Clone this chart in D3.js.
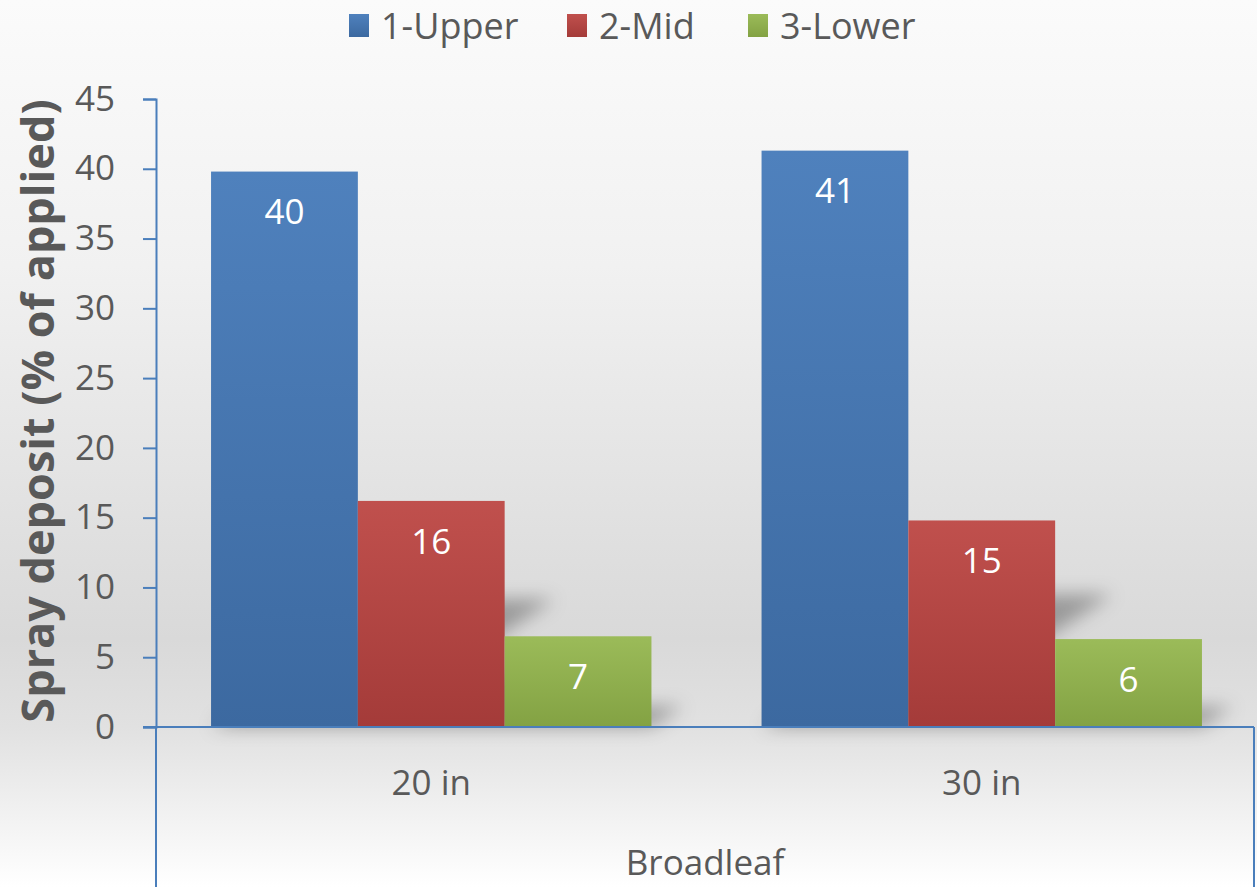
<!DOCTYPE html>
<html>
<head>
<meta charset="utf-8">
<script src="https://cdn.jsdelivr.net/npm/d3@7/dist/d3.min.js"></script>
<style>
  html, body { margin: 0; padding: 0; background: #ffffff; }
  svg { display: block; }
  text { font-family: "Open Sans", "Noto Sans", sans-serif; }
</style>
</head>
<body>
<svg id="chart" width="1257" height="887"></svg>
<script>
// Spray deposit by canopy layer, broadleaf, two boom heights
const categories = ["20 in", "30 in"];
const seriesNames = ["1-Upper", "2-Mid", "3-Lower"];
const upperValues = [39.8, 41.3];
const midValues = [16.2, 14.8];
const lowerValues = [6.5, 6.3];
const yTickValues = [0, 5, 10, 15, 20, 25, 30, 35, 40, 45];
const groupLabel = "Broadleaf";
const yTitle = "Spray deposit (% of applied)";

const seriesValues = [upperValues, midValues, lowerValues];
const seriesColors = [
  { top: "#4f81bd", bottom: "#3c69a0" },
  { top: "#c0504d", bottom: "#a43b39" },
  { top: "#9bbb59", bottom: "#83a243" }
];

const W = 1257, H = 887;
const plot = { left: 156, right: 1254, top: 99, bottom: 727 };
const axisColor = "#4a7ebb";
const textColor = "#595959";

const svg = d3.select("#chart");
const defs = svg.append("defs");

// page background: light at top, grey toward the axis, light again at the foot
const bg = defs.append("linearGradient").attr("id", "bg")
  .attr("x1", 0).attr("y1", 0).attr("x2", 0).attr("y2", 1);
[[0, "#fbfbfb"], [0.3, "#f1f1f1"], [0.72, "#d9d9d9"], [0.82, "#e1e1e1"], [1, "#ffffff"]]
  .forEach(([o, c]) => bg.append("stop").attr("offset", o).attr("stop-color", c));
svg.append("rect").attr("width", W).attr("height", H).attr("fill", "url(#bg)");

seriesColors.forEach((c, i) => {
  const g = defs.append("linearGradient").attr("id", "bar" + i)
    .attr("x1", 0).attr("y1", 0).attr("x2", 0).attr("y2", 1);
  g.append("stop").attr("offset", 0).attr("stop-color", c.top);
  g.append("stop").attr("offset", 1).attr("stop-color", c.bottom);
});

defs.append("filter").attr("id", "soft")
  .attr("x", "-50%").attr("y", "-50%").attr("width", "200%").attr("height", "200%")
  .append("feGaussianBlur").attr("stdDeviation", 9);

// scales
const x0 = d3.scaleBand().domain(categories)
  .range([plot.left, W]).paddingInner(0.2).paddingOuter(0.1);
const x1 = d3.scaleBand().domain(seriesNames).range([0, x0.bandwidth()]).padding(0);
const y = d3.scaleLinear().domain([0, 45]).range([plot.bottom, plot.top]);

const rows = [];
categories.forEach((cat, ci) => {
  seriesNames.forEach((s, si) => {
    rows.push({ cat, series: s, si, value: seriesValues[si][ci] });
  });
});

// perspective shadows cast up and to the right
const shadowScale = 0.23, shadowSkew = 1.54;
svg.append("g").attr("filter", "url(#soft)")
  .selectAll("path").data(rows).join("path")
  .attr("fill", "rgba(0,0,0,0.3)")
  .attr("d", d => {
    const xa = x0(d.cat) + x1(d.series);
    const xb = xa + x1.bandwidth();
    const base = y(0);
    const sh = (base - y(d.value)) * shadowScale;
    const dx = sh * shadowSkew;
    return `M${xa},${base}L${xb},${base}L${xb + dx},${base - sh}L${xa + dx},${base - sh}Z`;
  });

// bars
svg.append("g").selectAll("rect").data(rows).join("rect")
  .attr("x", d => x0(d.cat) + x1(d.series))
  .attr("y", d => y(d.value))
  .attr("width", x1.bandwidth())
  .attr("height", d => y(0) - y(d.value))
  .attr("fill", d => `url(#bar${d.si})`);

// value labels inside the bar tops
const fmt = d3.format(".0f");
svg.append("g").selectAll("text").data(rows).join("text")
  .attr("x", d => x0(d.cat) + x1(d.series) + x1.bandwidth() / 2)
  .attr("y", d => y(d.value) + 40)
  .attr("dy", "0.36em")
  .attr("text-anchor", "middle")
  .attr("fill", "#ffffff")
  .attr("font-size", 35)
  .text(d => fmt(d.value));

// y axis
const yAxis = svg.append("g").attr("transform", `translate(${plot.left},0)`)
  .call(d3.axisLeft(y).tickValues(yTickValues).tickSize(13).tickSizeOuter(13).tickPadding(28));
yAxis.select(".domain").attr("stroke", axisColor).attr("stroke-width", 2);
yAxis.selectAll(".tick line").attr("stroke", axisColor).attr("stroke-width", 2);
yAxis.selectAll(".tick text")
  .attr("fill", textColor).attr("font-size", 35)
  .attr("font-family", "'Open Sans', sans-serif");

// category axis with its grouping frame
const xAxis = svg.append("g").attr("transform", `translate(0,${plot.bottom})`)
  .call(d3.axisBottom(x0).tickSize(0).tickSizeOuter(0).tickPadding(0));
xAxis.select(".domain").attr("stroke", axisColor).attr("stroke-width", 2)
  .attr("d", `M${plot.left - 13},0H${plot.right}`);
xAxis.selectAll(".tick text")
  .attr("y", 55).attr("dy", "0.36em")
  .attr("fill", textColor).attr("font-size", 35)
  .attr("font-family", "'Open Sans', sans-serif");

const frame = svg.append("g").attr("stroke", axisColor).attr("stroke-width", 2).attr("fill", "none");
frame.append("line").attr("x1", plot.left).attr("x2", plot.left)
  .attr("y1", plot.bottom).attr("y2", H);
frame.append("line").attr("x1", plot.right).attr("x2", plot.right)
  .attr("y1", plot.bottom).attr("y2", H);

svg.append("text")
  .attr("x", (plot.left + plot.right) / 2).attr("y", 862).attr("dy", "0.36em")
  .attr("text-anchor", "middle").attr("fill", textColor).attr("font-size", 35)
  .text(groupLabel);

// y axis title
svg.append("text")
  .attr("transform", `translate(38,${(plot.top + plot.bottom) / 2 - 2}) rotate(-90)`)
  .attr("dy", "0.36em")
  .attr("text-anchor", "middle").attr("fill", textColor)
  .attr("font-size", 45).attr("font-weight", "bold")
  .text(yTitle);

// legend
const legendItems = [
  { name: seriesNames[0], x: 349 },
  { name: seriesNames[1], x: 567 },
  { name: seriesNames[2], x: 748 }
];
const legend = svg.append("g");
const li = legend.selectAll("g").data(legendItems).join("g")
  .attr("transform", d => `translate(${d.x},0)`);
li.append("rect").attr("x", 0).attr("y", 14).attr("width", 20).attr("height", 23)
  .attr("fill", (d, i) => `url(#bar${i})`);
li.append("text").attr("x", 32).attr("y", 39)
  .attr("fill", textColor).attr("font-size", 36)
  .text(d => d.name);
</script>
</body>
</html>
